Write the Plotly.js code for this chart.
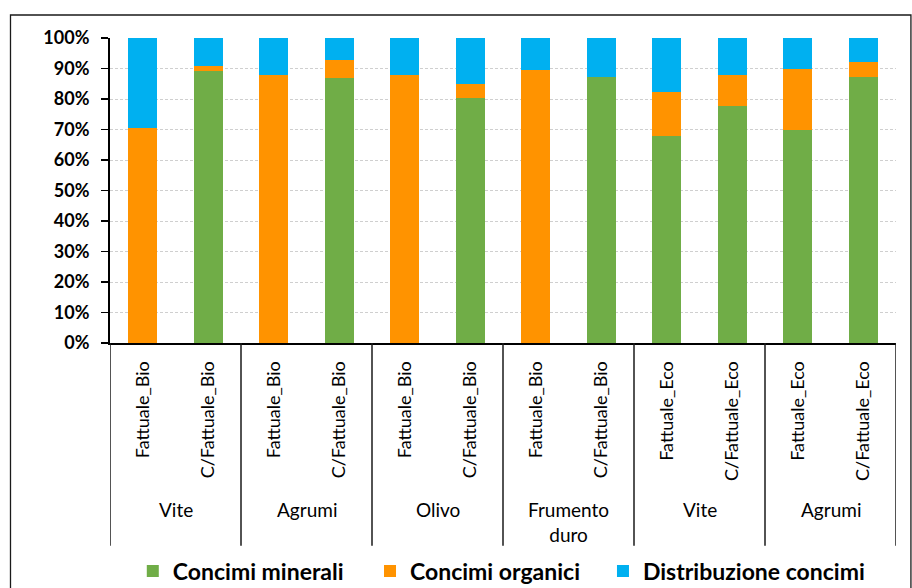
<!DOCTYPE html>
<html>
<head>
<meta charset="utf-8">
<script src="https://cdn.plot.ly/plotly-3.0.1.min.js"></script>
<style>
  html, body { margin: 0; padding: 0; background: #fff; }
  #chart { width: 912px; height: 588px; }
</style>
</head>
<body>
<div id="chart"></div>
<script>
// ---- data ----
const groups = ['Vite', 'Agrumi', 'Olivo', 'Frumento<br>duro', 'Vite', 'Agrumi'];
const subLabels = [
  'Fattuale_Bio', 'C/Fattuale_Bio',
  'Fattuale_Bio', 'C/Fattuale_Bio',
  'Fattuale_Bio', 'C/Fattuale_Bio',
  'Fattuale_Bio', 'C/Fattuale_Bio',
  'Fattuale_Eco', 'C/Fattuale_Eco',
  'Fattuale_Eco', 'C/Fattuale_Eco'
];
const seriesNames = ['Concimi minerali', 'Concimi organici', 'Distribuzione concimi'];
const minerali      = [0, 89.3, 0, 86.9, 0, 80.2, 0, 87.1, 67.9, 77.7, 69.9, 87.2];
const organici      = [70.5, 1.6, 87.9, 5.9, 87.8, 4.6, 89.6, 0, 14.5, 10.1, 19.8, 5.0];
const distribuzione = [29.5, 9.1, 12.1, 7.2, 12.2, 15.2, 10.4, 12.9, 17.6, 12.2, 10.3, 7.8];
const yTicks = [0, 10, 20, 30, 40, 50, 60, 70, 80, 90, 100];

// ---- styles ----
const colors = ['#70AD47', '#FF9300', '#00B0F0'];
const FONT = 'Lato, "Open Sans", sans-serif';
const legendIds = ['legend', 'legend2', 'legend3'];
const legendX = [0.029, 0.3308, 0.6272];

const xPos = subLabels.map((_, i) => i);
const values = [minerali, organici, distribuzione];

const traces = values.map((v, k) => ({
  type: 'bar',
  name: seriesNames[k],
  legend: legendIds[k],
  x: xPos,
  y: v,
  width: 0.44,
  marker: { color: colors[k], line: { width: 0 } },
  hoverinfo: 'name+y'
}));

// group separators (below axis) and group labels
const perGroup = subLabels.length / groups.length;
const shapes = [];
for (let g = 0; g <= groups.length; g++) {
  shapes.push({
    type: 'line', xref: 'x', yref: 'paper',
    x0: g * perGroup - 0.5, x1: g * perGroup - 0.5,
    y0: 0, y1: -0.665,
    line: { color: '#1a1a1a', width: 1.5 }
  });
}
// outer frame
shapes.push({
  type: 'rect', xref: 'paper', yref: 'paper',
  x0: -0.1266, x1: 1.019, y0: -0.95, y1: 1.0754,
  line: { color: '#1a1a1a', width: 1.3 }
});

const annotations = groups.map((gname, g) => ({
  xref: 'x', yref: 'paper',
  x: g * perGroup + (perGroup - 1) / 2,
  y: -0.50,
  yanchor: 'top', xanchor: 'center',
  text: gname,
  showarrow: false,
  font: { family: FONT, size: 19, color: '#000' }
}));

const layout = {
  width: 912, height: 588,
  margin: { l: 110, r: 16, t: 38, b: 245 },
  paper_bgcolor: '#fff', plot_bgcolor: '#fff',
  barmode: 'stack',
  showlegend: true,
  xaxis: {
    range: [-0.5, subLabels.length - 0.5],
    tickmode: 'array', tickvals: xPos, ticktext: subLabels,
    tickangle: -90,
    ticks: '', showgrid: false, zeroline: false,
    showline: true, linecolor: '#000', linewidth: 2,
    ticklabelstandoff: 9,
    tickfont: { family: FONT, size: 18, color: '#000' },
    automargin: false
  },
  yaxis: {
    range: [0, 100],
    tickmode: 'array', tickvals: yTicks, ticktext: yTicks.map(t => t + '%'),
    ticks: 'outside', ticklen: 7, tickwidth: 1.5, tickcolor: '#000',
    showline: true, linecolor: '#000', linewidth: 2,
    showgrid: true, gridcolor: '#CFCFCF', gridwidth: 1, griddash: '3px,2px',
    zeroline: false,
    ticklabelstandoff: 8,
    tickfont: { family: FONT, size: 18, color: '#000', weight: 'bold' },
    automargin: false
  },
  shapes: shapes,
  annotations: annotations
};
legendIds.forEach((id, k) => {
  layout[id] = {
    orientation: 'h', xref: 'paper', x: legendX[k], xanchor: 'left',
    yref: 'container', y: 0.029, yanchor: 'middle',
    bgcolor: 'rgba(0,0,0,0)',
    font: { family: FONT, size: 23, color: '#000', weight: 'bold' }
  };
});

Plotly.newPlot('chart', traces, layout, { displayModeBar: false, staticPlot: true });
</script>
</body>
</html>
